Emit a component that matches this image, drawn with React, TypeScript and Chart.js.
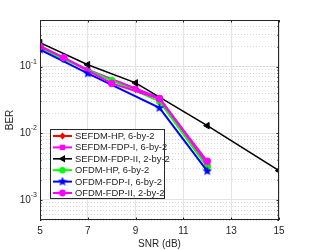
import React, { useEffect, useRef } from 'react';
import { Chart, registerables } from 'chart.js';

Chart.register(...registerables);

// ---- data ----
const seriesLabels = [
  'SEFDM-HP, 6-by-2',
  'SEFDM-FDP-I, 6-by-2',
  'SEFDM-FDP-II, 2-by-2',
  'OFDM-HP, 6-by-2',
  'OFDM-FDP-I, 6-by-2',
  'OFDM-FDP-II, 2-by-2',
];
const snrSefdmHP = [5, 7, 9, 10, 12];
const berSefdmHP = [0.205, 0.088, 0.046, 0.033, 0.0033];
const snrSefdmFDP1 = [5, 7, 9, 10, 12];
const berSefdmFDP1 = [0.2, 0.09, 0.047, 0.034, 0.0035];
const snrSefdmFDP2 = [5, 7, 9, 12, 15];
const berSefdmFDP2 = [0.229, 0.107, 0.057, 0.013, 0.00275];
const snrOfdmHP = [5, 6, 8, 10, 12];
const berOfdmHP = [0.19, 0.128, 0.062, 0.03, 0.0031];
const snrOfdmFDP1 = [5, 7, 10, 12];
const berOfdmFDP1 = [0.18, 0.079, 0.024, 0.0027];
const snrOfdmFDP2 = [5, 6, 8, 10, 12];
const berOfdmFDP2 = [0.2, 0.136, 0.056, 0.033, 0.0038];

const xTicks = [5, 7, 9, 11, 13, 15];
const yMajorTicks = [0.001, 0.01, 0.1];
const yMajorExp = ['-3', '-2', '-1'];
const xTitle = 'SNR (dB)';
const yTitle = 'BER';

const FONT = '"Liberation Sans", Arial, Helvetica, sans-serif';
const AXIS_COLOR = '#262626';

function makeStar(color: string, size: number) {
  const c = document.createElement('canvas');
  c.width = size;
  c.height = size;
  const ctx = c.getContext('2d')!;
  const cx = size / 2, cy = size / 2, R = size / 2, r = R * 0.45;
  ctx.beginPath();
  for (let i = 0; i < 10; i++) {
    const rad = i % 2 === 0 ? R : r;
    const a = -Math.PI / 2 + (i * Math.PI) / 5;
    const px = cx + rad * Math.cos(a), py = cy + rad * Math.sin(a);
    if (i === 0) ctx.moveTo(px, py); else ctx.lineTo(px, py);
  }
  ctx.closePath();
  ctx.fillStyle = color;
  ctx.fill();
  return c;
}

function drawMarker(ctx: CanvasRenderingContext2D, style: any, x: number, y: number, r: number, color: string) {
  ctx.save();
  ctx.fillStyle = color;
  ctx.strokeStyle = color;
  if (style instanceof HTMLCanvasElement) {
    ctx.drawImage(style, x - style.width / 2, y - style.height / 2);
    ctx.restore();
    return;
  }
  ctx.beginPath();
  if (style === 'circle') {
    ctx.arc(x, y, r, 0, Math.PI * 2);
  } else if (style === 'rectRot') {
    ctx.moveTo(x, y - r); ctx.lineTo(x + r, y); ctx.lineTo(x, y + r); ctx.lineTo(x - r, y);
  } else if (style === 'rect') {
    const s = r * 0.85;
    ctx.rect(x - s, y - s, 2 * s, 2 * s);
  } else if (style === 'triangle') {
    ctx.moveTo(x - r * 1.1, y); ctx.lineTo(x + r * 0.7, y - r); ctx.lineTo(x + r * 0.7, y + r);
  }
  ctx.closePath();
  ctx.fill();
  ctx.restore();
}

export default function App() {
  const ref = useRef<HTMLCanvasElement>(null);
  useEffect(() => {
    document.body.style.margin = '0';
    const star = makeStar('#0000FF', 10);
    const colors = ['#FF0000', '#FF00FF', '#000000', '#00FF00', '#0000FF', '#FF00FF'];
    const styles: any[] = ['rectRot', 'rect', 'triangle', 'circle', star, 'circle'];
    const rotations = [0, 0, -90, 0, 0, 0];
    const radii = [3.4, 3.2, 3.7, 3.2, 4, 3.4];
    const xs = [snrSefdmHP, snrSefdmFDP1, snrSefdmFDP2, snrOfdmHP, snrOfdmFDP1, snrOfdmFDP2];
    const ys = [berSefdmHP, berSefdmFDP1, berSefdmFDP2, berOfdmHP, berOfdmFDP1, berOfdmFDP2];

    const datasets = seriesLabels.map((label, i) => ({
      label,
      data: xs[i].map((x, j) => ({ x, y: ys[i][j] })),
      borderColor: colors[i],
      backgroundColor: colors[i],
      pointBackgroundColor: colors[i],
      pointBorderColor: colors[i],
      pointStyle: styles[i],
      pointRotation: rotations[i],
      pointRadius: radii[i],
      pointBorderWidth: 1,
      borderWidth: i === 2 ? 1.6 : 2,
      order: seriesLabels.length - i,
      tension: 0,
    }));

    const yMin = 5e-4, yMax = 0.5;
    const yAll: number[] = [];
    for (let e = -4; e <= 0; e++) {
      for (let m = 1; m <= 9; m++) {
        const v = m * Math.pow(10, e);
        if (v >= yMin * 0.999 && v <= yMax * 1.001) yAll.push(parseFloat(v.toPrecision(3)));
      }
    }
    const isMajor = (v: number) => Math.abs(Math.log10(v) - Math.round(Math.log10(v))) < 1e-6;

    const overlay = {
      id: 'overlay',
      afterDraw(chart: any) {
        const ctx = chart.ctx as CanvasRenderingContext2D;
        const a = chart.chartArea;
        const xs_ = chart.scales.x, ys_ = chart.scales.y;
        ctx.save();
        ctx.strokeStyle = AXIS_COLOR;
        ctx.lineWidth = 1;
        ctx.strokeRect(Math.round(a.left) + 0.5, Math.round(a.top) + 0.5, Math.round(a.right - a.left) - 1, Math.round(a.bottom - a.top) - 1);
        ctx.beginPath();
        xTicks.forEach((t) => {
          const px = Math.round(xs_.getPixelForValue(t)) + 0.5;
          ctx.moveTo(px, a.bottom); ctx.lineTo(px, a.bottom - 2.5);
          ctx.moveTo(px, a.top); ctx.lineTo(px, a.top + 2.5);
        });
        yAll.forEach((v) => {
          const py = Math.round(ys_.getPixelForValue(v)) + 0.5;
          const len = isMajor(v) ? 2.5 : 1.5;
          ctx.moveTo(a.left, py); ctx.lineTo(a.left + len, py);
          ctx.moveTo(a.right, py); ctx.lineTo(a.right - len, py);
        });
        ctx.stroke();
        ctx.fillStyle = AXIS_COLOR;
        ctx.textBaseline = 'middle';
        yMajorTicks.forEach((v, i) => {
          const py = ys_.getPixelForValue(v);
          ctx.font = `7px ${FONT}`;
          ctx.textAlign = 'right';
          const expW = ctx.measureText(yMajorExp[i]).width;
          const right = a.left - 3;
          ctx.fillText(yMajorExp[i], right, py - 5);
          ctx.font = `10px ${FONT}`;
          ctx.fillText('10', right - expW, py);
        });
        // legend
        const lx = 50, ly = 129, lw = 114, lh = 69;
        ctx.fillStyle = '#FFFFFF';
        ctx.fillRect(lx, ly, lw, lh);
        ctx.strokeStyle = AXIS_COLOR;
        ctx.lineWidth = 1;
        ctx.strokeRect(lx + 0.5, ly + 0.5, lw, lh);
        ctx.font = `9.4px ${FONT}`;
        ctx.textAlign = 'left';
        ctx.textBaseline = 'middle';
        seriesLabels.forEach((label, i) => {
          const cy = ly + 7 + i * 11.4;
          ctx.strokeStyle = colors[i];
          ctx.lineWidth = i === 2 ? 1.6 : 2;
          ctx.beginPath();
          ctx.moveTo(lx + 3, cy); ctx.lineTo(lx + 22, cy);
          ctx.stroke();
          drawMarker(ctx, styles[i], lx + 12.5, cy, radii[i], colors[i]);
          ctx.fillStyle = AXIS_COLOR;
          ctx.fillText(label, lx + 25, cy + 0.5);
        });
        ctx.restore();
      },
    };

    const chart = new Chart(ref.current!, {
      type: 'line',
      data: { datasets: datasets as any },
      options: {
        animation: false,
        responsive: false,
        devicePixelRatio: 1,
        layout: { padding: { top: 20, right: 30, left: 0, bottom: 0 } },
        plugins: { legend: { display: false }, tooltip: { enabled: false } },
        scales: {
          x: {
            type: 'linear',
            min: 5,
            max: 15,
            afterBuildTicks: (s: any) => { s.ticks = xTicks.map((v) => ({ value: v })); },
            afterFit: (s: any) => { s.height = 30; },
            ticks: { color: AXIS_COLOR, font: { family: FONT, size: 10 }, padding: 5 },
            grid: { color: '#E3E3E3', lineWidth: 1, drawTicks: false },
            border: { display: false },
            title: { display: true, text: xTitle, color: AXIS_COLOR, font: { family: FONT, size: 10 }, padding: { top: 2, bottom: 0 } },
          },
          y: {
            type: 'logarithmic',
            min: yMin,
            max: yMax,
            afterBuildTicks: (s: any) => { s.ticks = yAll.map((v) => ({ value: v })); },
            afterFit: (s: any) => { s.width = 40; },
            ticks: { display: false },
            grid: {
              drawTicks: false,
              color: (c: any) => (c.tick && isMajor(c.tick.value) ? '#E3E3E3' : '#D6D6D6'),
              lineWidth: 1,
            },
            border: {
              display: false,
              dash: (c: any) => (c.tick && isMajor(c.tick.value) ? [] : [1, 2]),
            } as any,
            title: { display: true, text: yTitle, color: AXIS_COLOR, font: { family: FONT, size: 10 }, padding: { top: 4, bottom: 4 } },
          },
        },
      },
      plugins: [overlay],
    });
    return () => chart.destroy();
  }, []);
  return (
    <div style={{ width: 309, height: 250, position: 'relative' }}>
      <canvas ref={ref} width={309} height={250} />
    </div>
  );
}
